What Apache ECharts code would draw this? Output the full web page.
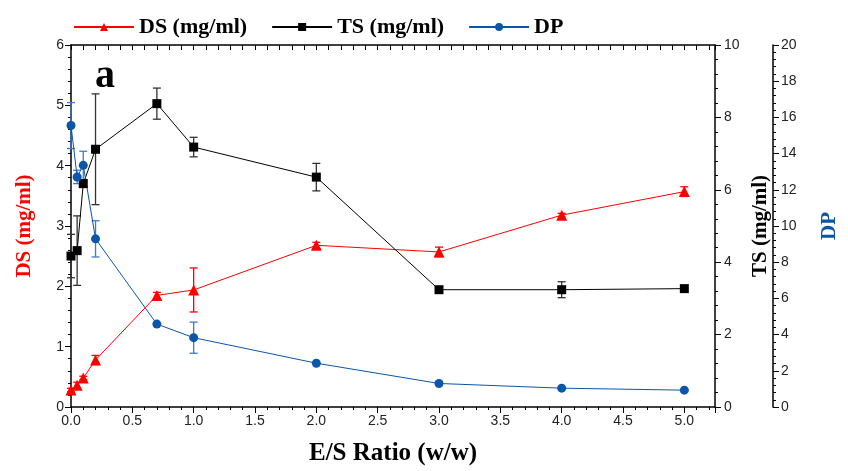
<!DOCTYPE html>
<html>
<head>
<meta charset="utf-8">
<script src="https://cdn.jsdelivr.net/npm/echarts@6/dist/echarts.min.js"></script>
<style>
  html, body { margin: 0; padding: 0; background: #fff; }
  #chart { width: 848px; height: 471px; }
</style>
</head>
<body>
<div id="chart"></div>
<script>
// Enzyme/substrate ratio (w/w)
const esRatio = [0, 0.05, 0.1, 0.2, 0.7, 1.0, 2.0, 3.0, 4.0, 5.0];

// Dissolved sugars (mg/ml), left axis
const dsValues = [0.28, 0.36, 0.48, 0.78, 1.85, 1.94, 2.68, 2.57, 3.18, 3.57];
const dsErrors = [0.03, 0.05, 0.03, 0.075, 0.05, 0.365, 0.05, 0.08, 0.03, 0.08];

// Total sugars (mg/ml), first right axis
const tsValues = [4.17, 4.32, 6.17, 7.12, 8.38, 7.18, 6.35, 3.24, 3.24, 3.27];
const tsErrors = [0.6, 0.96, 0.1, 1.53, 0.43, 0.27, 0.38, 0, 0.22, 0];

// Degree of polymerisation, second right axis
const dpValues = [15.55, 12.71, 13.35, 9.29, 4.58, 3.83, 2.42, 1.30, 1.04, 0.93];
const dpErrors = [1.27, 0.37, 0.78, 1.0, 0, 0.86, 0, 0, 0, 0];

const xTickLabels = ['0.0', '0.5', '1.0', '1.5', '2.0', '2.5', '3.0', '3.5', '4.0', '4.5', '5.0'];

const RED = '#ff0000';
const BLACK = '#000000';
const BLUE = '#0a56a8';
const SERIF = '"Liberation Serif", "Times New Roman", serif';
const SANS = '"Liberation Sans", Arial, sans-serif';

const tickLabel = { fontFamily: SANS, fontSize: 14, color: '#222' };
const frameLine = { show: true, onZero: false, lineStyle: { color: '#000', width: 1.5 } };

function errorBars(yAxisIndex, values, errors, color) {
  const data = [];
  esRatio.forEach((x, i) => {
    if (errors[i] > 0) data.push([x, values[i] - errors[i], values[i] + errors[i]]);
  });
  return {
    type: 'custom',
    name: 'err' + yAxisIndex,
    xAxisIndex: 0,
    yAxisIndex: yAxisIndex,
    z: 1,
    silent: true,
    data: data,
    encode: { x: 0, y: [1, 2] },
    renderItem: function (params, api) {
      const x = api.value(0);
      const top = api.coord([x, api.value(2)]);
      const bot = api.coord([x, api.value(1)]);
      const hw = 4;
      const style = { stroke: color, lineWidth: 1.3 };
      return {
        type: 'group',
        children: [
          { type: 'line', shape: { x1: top[0], y1: top[1], x2: bot[0], y2: bot[1] }, style: style },
          { type: 'line', shape: { x1: top[0] - hw, y1: top[1], x2: top[0] + hw, y2: top[1] }, style: style },
          { type: 'line', shape: { x1: bot[0] - hw, y1: bot[1], x2: bot[0] + hw, y2: bot[1] }, style: style }
        ]
      };
    }
  };
}

function pairs(values) {
  return esRatio.map((x, i) => [x, values[i]]);
}

const chart = echarts.init(document.getElementById('chart'));

chart.setOption({
  animation: false,
  backgroundColor: '#ffffff',
  title: {
    text: 'a',
    left: 90,
    top: 52,
    textStyle: { fontFamily: SERIF, fontWeight: 'bold', fontSize: 40, color: '#000' }
  },
  legend: {
    top: 11,
    left: 68,
    itemWidth: 60,
    itemHeight: 10,
    itemGap: 24,
    data: ['DS (mg/ml)', 'TS (mg/ml)', 'DP'],
    textStyle: { fontFamily: SERIF, fontWeight: 'bold', fontSize: 22, color: '#000' }
  },
  grid: { left: 71, right: 122, top: 45, bottom: 62 },
  xAxis: [
    {
      type: 'value', position: 'bottom', min: 0, max: 5.25, interval: 0.5,
      name: 'E/S Ratio (w/w)', nameLocation: 'middle', nameGap: 34,
      nameTextStyle: { fontFamily: SERIF, fontWeight: 'bold', fontSize: 25, color: '#000' },
      axisLine: frameLine,
      axisTick: { length: 6, lineStyle: { color: '#000' } },
      axisLabel: Object.assign({}, tickLabel, {
        margin: 7,
        formatter: v => { const k = Math.round(v / 0.5); return Math.abs(v - k * 0.5) < 1e-6 ? xTickLabels[k] : ''; }
      }),
      splitLine: { show: false }
    },
    {
      type: 'value', position: 'top', min: 0, max: 5.25, interval: 0.1,
      axisLine: frameLine,
      axisTick: { inside: true, length: 5, lineStyle: { color: '#000' } },
      axisLabel: { show: false },
      splitLine: { show: false }
    },
    {
      type: 'value', position: 'bottom', min: 0, max: 5.25, interval: 0.1,
      axisLine: { show: false, onZero: false },
      axisTick: { length: 3, lineStyle: { color: '#000' } },
      axisLabel: { show: false },
      splitLine: { show: false }
    }
  ],
  yAxis: [
    {
      type: 'value', position: 'left', min: 0, max: 6, interval: 1,
      name: 'DS (mg/ml)', nameLocation: 'middle', nameGap: 36,
      nameTextStyle: { fontFamily: SERIF, fontWeight: 'bold', fontSize: 21, color: RED },
      axisLine: frameLine,
      axisTick: { length: 6, lineStyle: { color: '#000' } },
      minorTick: { show: true, splitNumber: 5, length: 3, lineStyle: { color: '#000' } },
      axisLabel: Object.assign({}, tickLabel, { margin: 7 }),
      splitLine: { show: false }
    },
    {
      type: 'value', position: 'right', min: 0, max: 10, interval: 2,
      name: 'TS (mg/ml)', nameLocation: 'middle', nameGap: 28,
      nameTextStyle: { fontFamily: SERIF, fontWeight: 'bold', fontSize: 21, color: BLACK },
      axisLine: frameLine,
      axisTick: { length: 6, lineStyle: { color: '#000' } },
      minorTick: { show: true, splitNumber: 5, length: 3, lineStyle: { color: '#000' } },
      axisLabel: Object.assign({}, tickLabel, { margin: 9 }),
      splitLine: { show: false }
    },
    {
      type: 'value', position: 'right', offset: 58, min: 0, max: 20, interval: 2,
      name: 'DP', nameLocation: 'middle', nameGap: 46,
      nameTextStyle: { fontFamily: SERIF, fontWeight: 'bold', fontSize: 21, color: BLUE },
      axisLine: frameLine,
      axisTick: { length: 6, lineStyle: { color: '#000' } },
      minorTick: { show: true, splitNumber: 5, length: 3, lineStyle: { color: '#000' } },
      axisLabel: Object.assign({}, tickLabel, { margin: 8 }),
      splitLine: { show: false }
    }
  ],
  series: [
    errorBars(0, dsValues, dsErrors, RED),
    errorBars(1, tsValues, tsErrors, '#333333'),
    errorBars(2, dpValues, dpErrors, '#3b7cc8'),
    {
      name: 'DS (mg/ml)', type: 'line', xAxisIndex: 0, yAxisIndex: 0, z: 3,
      data: pairs(dsValues),
      symbol: 'triangle', symbolSize: 11,
      lineStyle: { color: RED, width: 1 },
      itemStyle: { color: RED }
    },
    {
      name: 'TS (mg/ml)', type: 'line', xAxisIndex: 0, yAxisIndex: 1, z: 3,
      data: pairs(tsValues),
      symbol: 'rect', symbolSize: 9,
      lineStyle: { color: BLACK, width: 1 },
      itemStyle: { color: BLACK }
    },
    {
      name: 'DP', type: 'line', xAxisIndex: 0, yAxisIndex: 2, z: 3,
      data: pairs(dpValues),
      symbol: 'circle', symbolSize: 9,
      lineStyle: { color: BLUE, width: 1 },
      itemStyle: { color: BLUE }
    }
  ]
});
</script>
</body>
</html>
